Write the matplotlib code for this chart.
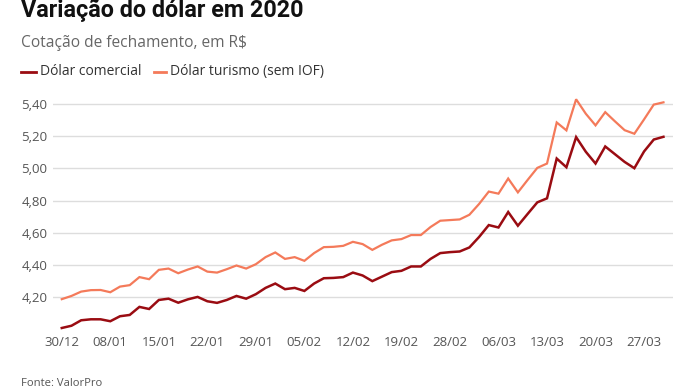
import matplotlib
matplotlib.use("Agg")
from matplotlib import pyplot as plt

# pregões de 30/12/2019 a 31/03/2020
dates = [
    "30/12", "02/01", "03/01", "06/01", "07/01", "08/01", "09/01", "10/01", "13/01", "14/01",
    "15/01", "16/01", "17/01", "20/01", "21/01", "22/01", "23/01", "24/01", "27/01", "28/01",
    "29/01", "30/01", "31/01", "03/02", "04/02", "05/02", "06/02", "07/02", "10/02", "11/02",
    "12/02", "13/02", "14/02", "17/02", "18/02", "19/02", "20/02", "21/02", "26/02", "27/02",
    "28/02", "02/03", "03/03", "04/03", "05/03", "06/03", "09/03", "10/03", "11/03", "12/03",
    "13/03", "16/03", "17/03", "18/03", "19/03", "20/03", "23/03", "24/03", "25/03", "26/03",
    "27/03", "30/03", "31/03",
]
comercial = [
    4.009, 4.023, 4.057, 4.063, 4.063, 4.051, 4.082, 4.090, 4.140, 4.127,
    4.183, 4.191, 4.166, 4.187, 4.202, 4.175, 4.165, 4.183, 4.208, 4.191,
    4.219, 4.258, 4.285, 4.250, 4.258, 4.239, 4.285, 4.318, 4.320, 4.325,
    4.353, 4.335, 4.300, 4.328, 4.356, 4.364, 4.391, 4.391, 4.438, 4.474,
    4.480, 4.484, 4.509, 4.574, 4.648, 4.633, 4.729, 4.644, 4.717, 4.789,
    4.814, 5.061, 5.007, 5.194, 5.103, 5.030, 5.136, 5.088, 5.040, 5.001,
    5.105, 5.179, 5.196,
]
turismo = [
    4.188, 4.208, 4.235, 4.244, 4.245, 4.231, 4.266, 4.275, 4.325, 4.312,
    4.370, 4.378, 4.349, 4.372, 4.391, 4.359, 4.353, 4.374, 4.397, 4.378,
    4.405, 4.449, 4.478, 4.438, 4.449, 4.426, 4.474, 4.511, 4.513, 4.519,
    4.544, 4.530, 4.494, 4.526, 4.553, 4.561, 4.586, 4.586, 4.636, 4.675,
    4.679, 4.683, 4.712, 4.779, 4.856, 4.843, 4.937, 4.851, 4.928, 5.003,
    5.030, 5.285, 5.236, 5.429, 5.339, 5.267, 5.349, 5.292, 5.237, 5.215,
    5.304, 5.396, 5.410,
]
y_ticks = [4.20, 4.40, 4.60, 4.80, 5.00, 5.20, 5.40]

DARK = "#9a0c12"
ORANGE = "#f47a5a"
FONT = "Open Sans"

plt.rcParams["font.family"] = [FONT, "DejaVu Sans"]

W, H = 696, 390
fig = plt.figure(figsize=(W / 100, H / 100), dpi=100)
ax = fig.add_axes((0.0762, 0.147, 0.891, 0.603))

x = list(range(len(dates)))
ax.plot(x, turismo, color=ORANGE, lw=1.6, solid_joinstyle="miter", zorder=3)
ax.plot(x, comercial, color=DARK, lw=1.8, solid_joinstyle="miter", zorder=4)

ax.set_xlim(-0.9, 63.0)
ax.set_ylim(3.98, 5.44)
ax.set_yticks(y_ticks)
ax.set_yticklabels([f"{v:.2f}".replace(".", ",") for v in y_ticks])
ax.set_xticks(x[::5])
ax.set_xticklabels(dates[::5])
ax.tick_params(length=0, labelsize=9.5, labelcolor="#555555")
ax.tick_params(axis="y", pad=4)
ax.tick_params(axis="x", pad=2.5)
ax.grid(axis="y", color="#dddddd", lw=1)
ax.set_axisbelow(True)
for s in ax.spines.values():
    s.set_visible(False)

# título em fonte mais estreita, corta no topo como no original
fig.text(21 / W, 1 - 17 / H, "Variação do dólar em 2020", fontsize=16.8,
         fontweight="bold", family=["Roboto", "DejaVu Sans"], color="#111111",
         va="baseline")
fig.text(21 / W, 1 - 43 / H, "Cotação de fechamento, em R$", fontsize=11.2,
         color="#666666", va="center")

# legenda
ly = 1 - 71.5 / H
for x0, x1, tx, col, label in [(21, 36, 40.5, DARK, "Dólar comercial"),
                               (154, 166, 170, ORANGE, "Dólar turismo (sem IOF)")]:
    fig.add_artist(plt.Line2D([x0 / W, x1 / W], [ly, ly], color=col, lw=2))
    fig.text(tx / W, ly, label, fontsize=10, color="#333333", va="center")

fig.text(21 / W, 1 - 384 / H, "Fonte: ValorPro", fontsize=8.1,
         color="#555555", va="center")

fig.savefig("out.png", dpi=100)
